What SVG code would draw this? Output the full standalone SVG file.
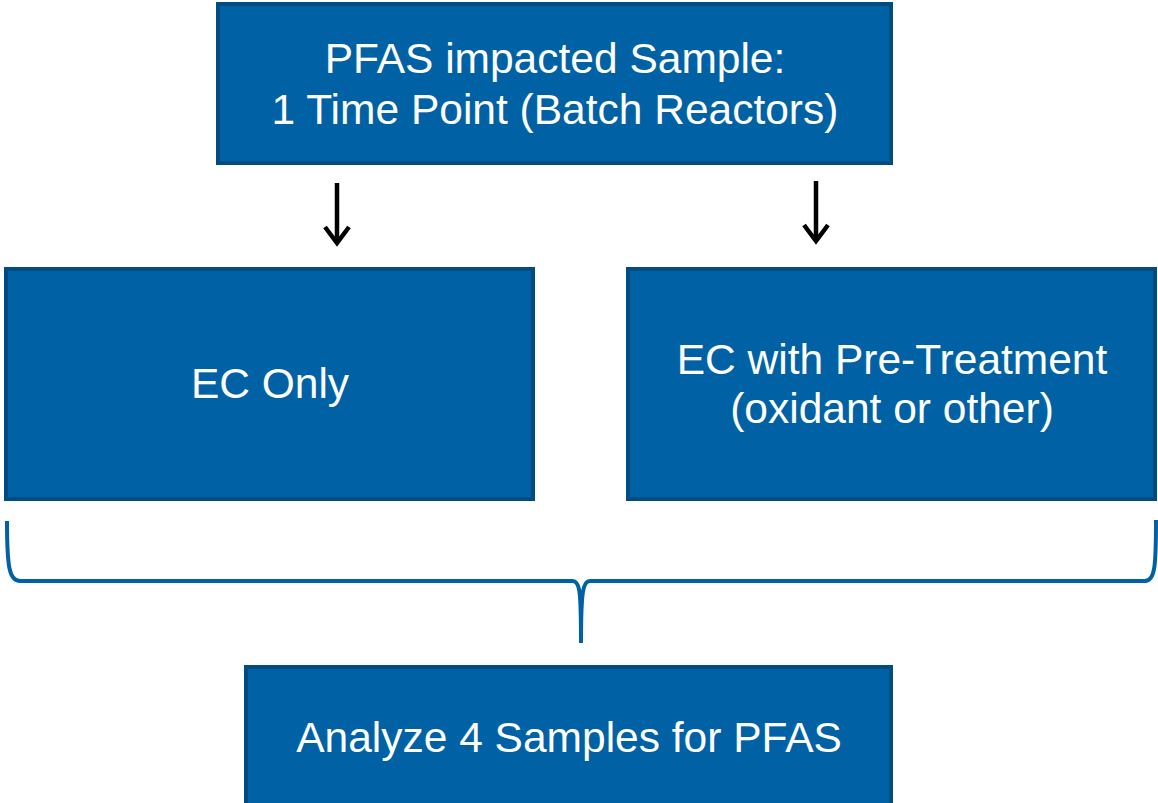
<svg xmlns="http://www.w3.org/2000/svg" width="1158" height="803" viewBox="0 0 1158 803">
  <style>
    .box { fill: #0062A5; stroke: #004C80; stroke-width: 4; }
    .label { font-family: "Liberation Sans", Arial, sans-serif; font-size: 42.5px; fill: #ffffff; text-anchor: middle; }
    .arrow { stroke: #000000; stroke-width: 4.5; fill: none; }
    .brace { stroke: #0062A5; stroke-width: 4; fill: none; }
  </style>

  <g id="node-sample">
    <rect class="box" x="218" y="4" width="673" height="159"/>
    <text class="label" x="555" y="73">PFAS impacted Sample:</text>
    <text class="label" x="555" y="124">1 Time Point (Batch Reactors)</text>
  </g>

  <g id="node-ec-only">
    <rect class="box" x="6" y="269" width="527" height="230"/>
    <text class="label" x="270" y="398">EC Only</text>
  </g>

  <g id="node-ec-pretreatment">
    <rect class="box" x="628" y="269" width="527" height="230"/>
    <text class="label" x="892" y="374">EC with Pre-Treatment</text>
    <text class="label" x="892" y="423">(oxidant or other)</text>
  </g>

  <g id="node-analyze">
    <rect class="box" x="246" y="667" width="645" height="140"/>
    <text class="label" x="569" y="752">Analyze 4 Samples for PFAS</text>
  </g>

  <g id="connectors">
    <!-- down arrows -->
    <path class="arrow" d="M337,183 V242"/>
    <path class="arrow" d="M325,227 L337,243 L349,227"/>
    <path class="arrow" d="M816,181 V240"/>
    <path class="arrow" d="M804,225 L816,241 L828,225"/>
    <!-- grouping brace -->
    <path class="brace" d="M7,521 C7,566 9,581 20,581 H572 C580,581 581,590 581,643 C581,590 583,581 590,581 H1145 C1155,581 1156,566 1156,520"/>
  </g>
</svg>
